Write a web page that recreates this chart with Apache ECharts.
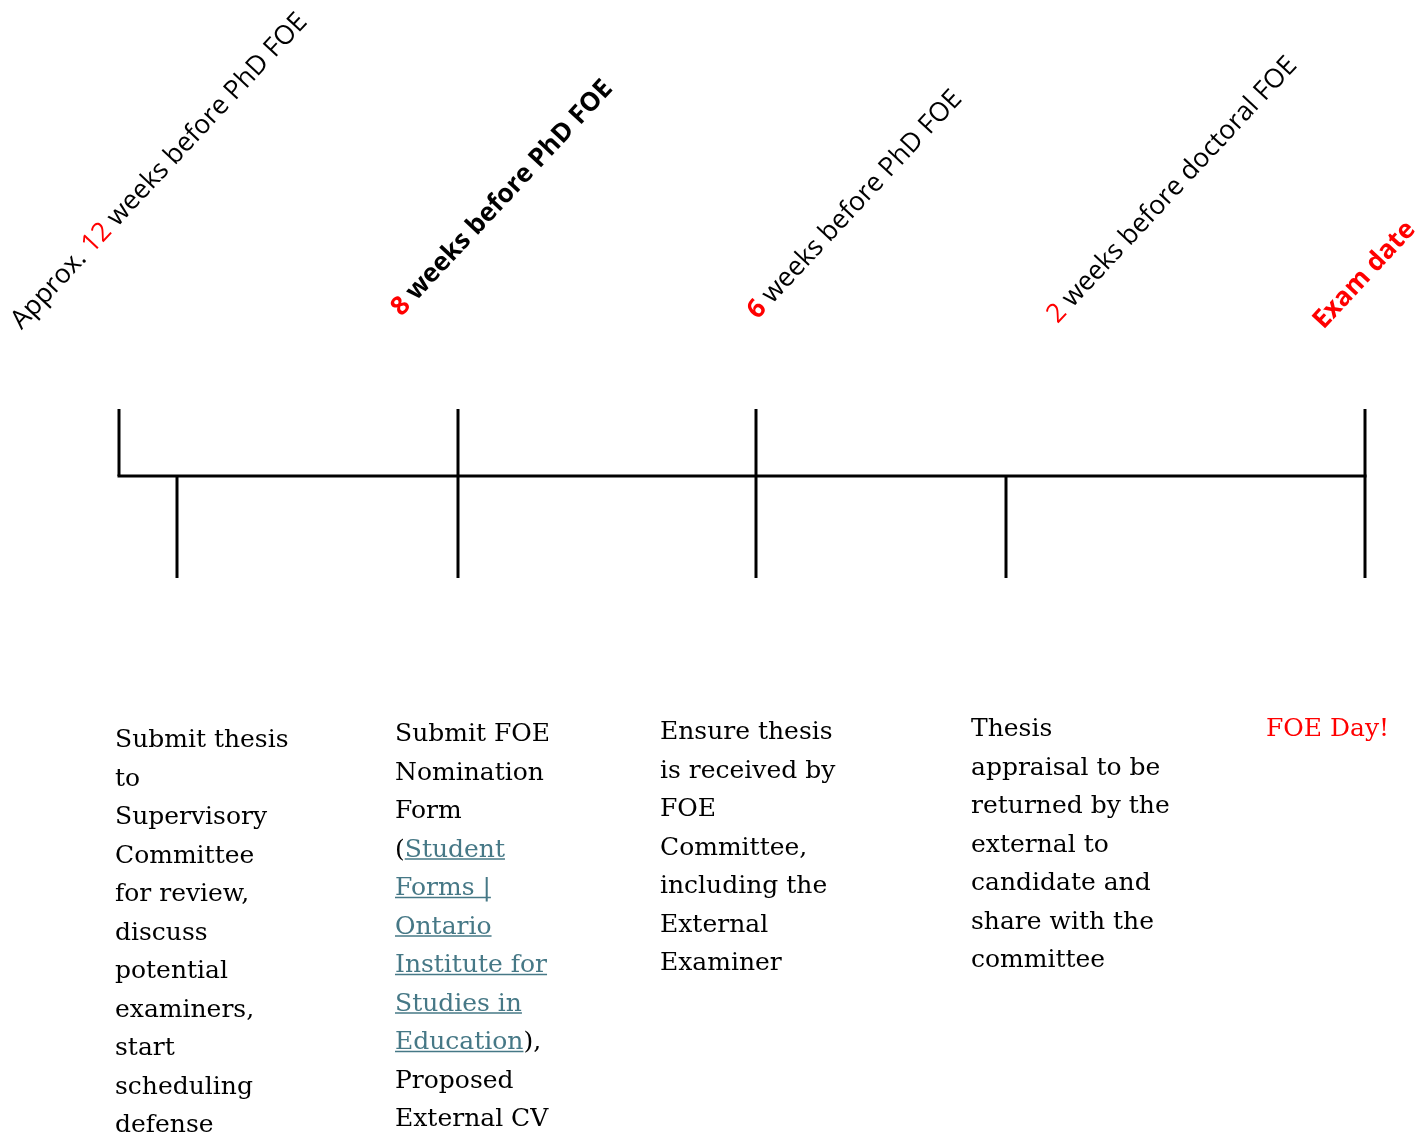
<!DOCTYPE html>
<html>
<head>
<meta charset="utf-8">
<style>
html,body{margin:0;padding:0;background:#fff;}
#c{width:1426px;height:1137px;}
</style>
<script src="https://cdn.jsdelivr.net/npm/echarts@6/dist/echarts.min.js"></script>
</head>
<body>
<div id="c"></div>
<script>
// ---------- DATA ----------
// timeline tick marks: position along the timeline, length above and below the line
const tickPos   = [119, 177, 458, 756, 1006, 1365];
const tickAbove = [67, 0, 67, 67, 0, 67];
const tickBelow = [0, 102, 102, 102, 102, 102];

// rotated milestone headings
const headBefore  = ["Approx. ", "", "", "", ""];
const headRed     = ["12", "8", "6", "2", "Exam date"];
const headAfter   = [" weeks before PhD FOE", " weeks before PhD FOE", " weeks before PhD FOE", " weeks before doctoral FOE", ""];
const headRedBold = [false, true, true, false, true];
const headRestBold= [false, true, false, false, false];

// task descriptions (text in [] is a hyperlink)
const desc1 = ["Submit thesis","to","Supervisory","Committee","for review,","discuss","potential","examiners,","start","scheduling","defense"];
const desc2 = ["Submit FOE","Nomination","Form","([Student]","[Forms |]","[Ontario]","[Institute for]","[Studies in]","[Education]),","Proposed","External CV"];
const desc3 = ["Ensure thesis","is received by","FOE","Committee,","including the","External","Examiner"];
const desc4 = ["Thesis","appraisal to be","returned by the","external to","candidate and","share with the","committee"];
const desc5 = ["FOE Day!"];

// ---------- LAYOUT ----------
const W = 1426, H = 1137, axisY = 476;
const headX = [16, 396, 752, 1052, 1318];
const headY = [325, 312, 315, 319, 325];
const headRot = 47 * Math.PI / 180;
const descX = [115, 395, 660, 971, 1266];
const descY = [738, 732, 730, 727, 727];
const descColor = ['#000','#000','#000','#000','#ff0000'];
const lineH = 38.5;
const bodyFont = '25px "DejaVu Serif"';
const linkColor = '#467886';
const headFamily = '"Open Sans"';

const measureCtx = document.createElement('canvas').getContext('2d');
function textWidth(s, font){ measureCtx.font = font; return measureCtx.measureText(s).width; }

const graphics = [];

// headings
headRed.forEach((r, i) => {
  const fN = (b) => (b ? 'bold 26px ' : '26.5px ') + headFamily;
  let txt = '';
  if (headBefore[i]) txt += '{a|' + headBefore[i] + '}';
  txt += '{r|' + r + '}';
  if (headAfter[i]) txt += '{a|' + headAfter[i] + '}';
  graphics.push({
    type: 'text', x: headX[i], y: headY[i], rotation: headRot,
    style: {
      text: txt, font: fN(headRestBold[i]), align: 'left', verticalAlign: 'middle',
      rich: {
        a: { fill: '#000', font: fN(headRestBold[i]) },
        r: { fill: '#ff0000', font: fN(headRedBold[i]) }
      }
    }
  });
});

// descriptions
[desc1, desc2, desc3, desc4, desc5].forEach((lines, ci) => {
  lines.forEach((line, li) => {
    const yc = descY[ci] + li * lineH + 2.6;
    const segs = [];
    line.replace(/\[([^\]]*)\]|([^\[]+)/g, (m, link, plain) => {
      if (link !== undefined) segs.push({ t: link, link: true });
      else segs.push({ t: plain, link: false });
      return m;
    });
    let x = descX[ci];
    segs.forEach(s => {
      const w = textWidth(s.t, bodyFont);
      graphics.push({
        type: 'text', x: x, y: yc,
        style: { text: s.t, font: bodyFont, fill: s.link ? linkColor : descColor[ci], align: 'left', verticalAlign: 'middle' }
      });
      if (s.link) {
        graphics.push({
          type: 'line', shape: { x1: x, y1: yc + 9, x2: x + w, y2: yc + 9 },
          style: { stroke: linkColor, lineWidth: 1.5 }
        });
      }
      x += w;
    });
  });
});

const tickData = tickPos.map((p, i) => [p, tickAbove[i], -tickBelow[i]]);
const tStart = Math.min.apply(null, tickPos), tEnd = Math.max.apply(null, tickPos);

const chart = echarts.init(document.getElementById('c'));
chart.setOption({
  animation: false,
  backgroundColor: '#fff',
  grid: { left: 0, right: 0, top: 0, bottom: 0 },
  xAxis: { type: 'value', min: 0, max: W, show: false },
  yAxis: { type: 'value', min: axisY - H, max: axisY, show: false },
  graphic: graphics,
  series: [
    {
      type: 'line', data: [[tStart, 0], [tEnd, 0]], symbol: 'none',
      lineStyle: { color: '#000', width: 3, cap: 'square' }, silent: true
    },
    {
      type: 'custom', data: tickData, silent: true,
      renderItem: function (params, api) {
        const a = api.coord([api.value(0), api.value(1)]);
        const b = api.coord([api.value(0), api.value(2)]);
        return { type: 'line', shape: { x1: a[0], y1: a[1], x2: b[0], y2: b[1] }, style: { stroke: '#000', lineWidth: 3 } };
      }
    }
  ]
});
</script>
</body>
</html>
